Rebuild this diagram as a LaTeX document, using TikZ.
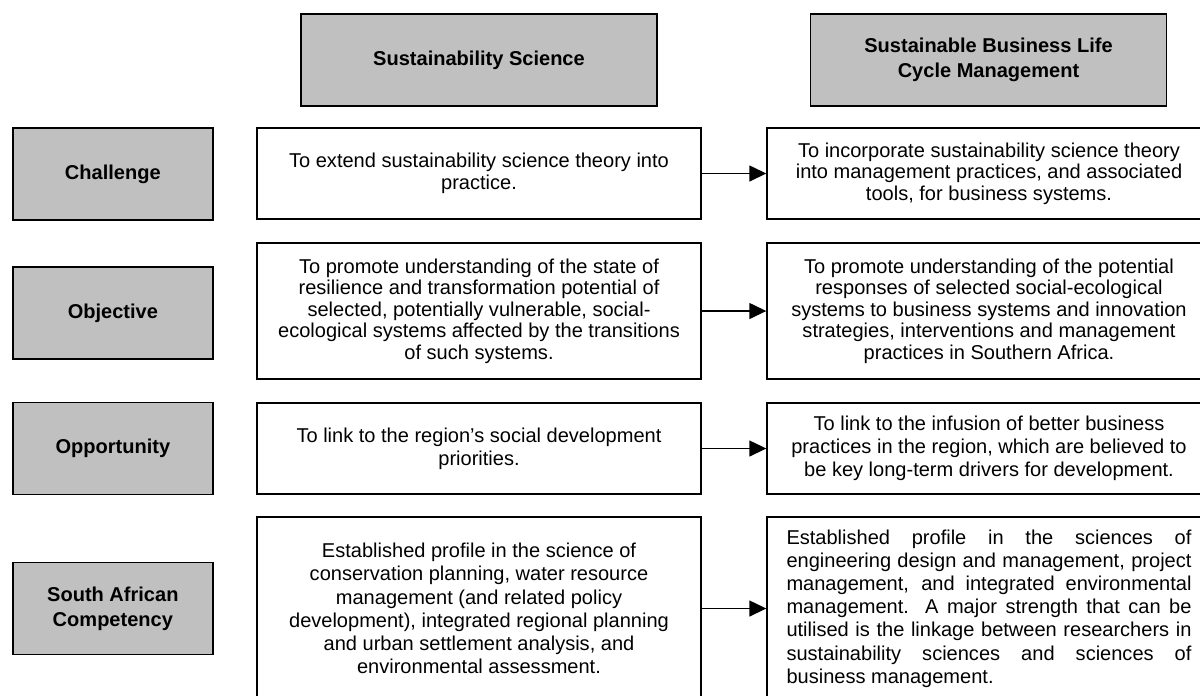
\documentclass[tikz,border=0pt]{standalone}
\usepackage{fontspec}
\setmainfont{Liberation Sans}
\usetikzlibrary{arrows.meta}
\definecolor{boxgray}{HTML}{C0C0C0}
\newcommand\tightlines{\fontsize{11.4}{12.2}\selectfont\lineskiplimit=-20pt\relax}
\tikzset{
	lab/.style={draw=black,fill=boxgray,line width=0.8pt,minimum width=4cm,minimum height=1.84cm,align=center,font=\fontsize{11.4}{14}\selectfont\bfseries},
	head/.style={lab,minimum width=7.12cm},
	txt/.style={draw=black,line width=0.8pt,minimum width=8.88cm,align=center},
	tight/.style={font=\tightlines},
	loose/.style={font=\fontsize{11.4}{13.2}\selectfont},
	arr/.style={-{Triangle[length=0.34cm,width=0.32cm]},line width=0.8pt}
}

\begin{document}
\begin{tikzpicture}
		\useasboundingbox (0,0) rectangle (24,-13.9);
		
		\node[head] (hss) at (9.58,-1.2){Sustainability Science};
		\node[head] (hsb) at (19.77,-1.2){Sustainable Business Life\\Cycle Management};
		
		\node[lab] (challenge) at (2.257,-3.48){Challenge};
		\node[lab] (objective) at (2.257,-6.26){Objective};
		\node[lab] (opportunity) at (2.257,-8.97){Opportunity};
		\node[lab] (competency) at (2.257,-12.17){South African\\Competency};
		
		\node[txt,tight,minimum height=1.82cm] (ss1) at (9.58,-3.47){To extend sustainability science theory into\\practice.};
		\node[txt,tight,minimum height=2.72cm] (ss2) at (9.58,-6.22){To promote understanding of the state of\\resilience and transformation potential of\\selected, potentially vulnerable, social-\\ecological systems affected by the transitions\\of such systems.};
		\node[txt,loose,minimum height=1.82cm] (ss3) at (9.58,-8.97){To link to the region’s social development\\priorities.};
		\node[txt,loose,minimum height=3.66cm] (ss4) at (9.58,-12.17){Established profile in the science of\\conservation planning, water resource\\management (and related policy\\development), integrated regional planning\\and urban settlement analysis, and\\environmental assessment.};
		
		\node[txt,tight,minimum height=1.82cm] (sb1) at (19.78,-3.47){To incorporate sustainability science theory\\into management practices, and associated\\tools, for business systems.};
		\node[txt,tight,minimum height=2.72cm] (sb2) at (19.78,-6.22){To promote understanding of the potential\\responses of selected social-ecological\\systems to business systems and innovation\\strategies, interventions and management\\practices in Southern Africa.};
		\node[txt,loose,minimum height=1.82cm] (sb3) at (19.78,-8.97){To link to the infusion of better business\\practices in the region, which are believed to\\be key long-term drivers for development.};
		\node[txt,loose,minimum height=3.66cm,text width=8.1cm,inner xsep=0.39cm,align=justify] (sb4) at (19.78,-12.17){Established profile in the sciences of\linebreak engineering design and management, project\linebreak management, and integrated environmental\linebreak management. A major strength that can be\linebreak utilised is the linkage between researchers in\linebreak sustainability sciences and sciences of\linebreak business management.};
		
		\draw[arr] (ss1.east) -- (sb1.west);
		\draw[arr] (ss2.east) -- (sb2.west);
		\draw[arr] (ss3.east) -- (sb3.west);
		\draw[arr] (ss4.east) -- (sb4.west);
	\end{tikzpicture}
\end{document}
